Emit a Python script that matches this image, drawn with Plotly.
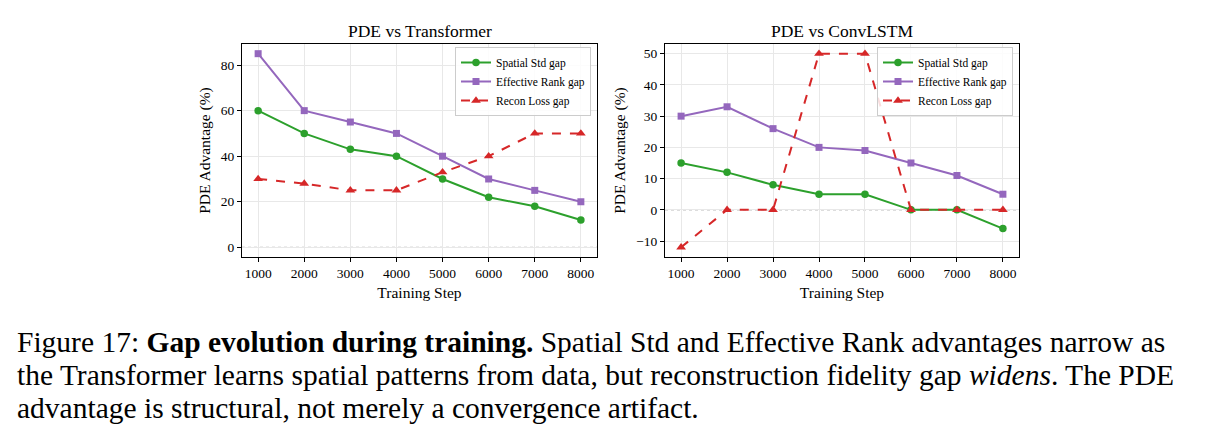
import plotly.graph_objects as go

steps = [1000, 2000, 3000, 4000, 5000, 6000, 7000, 8000]

tf_spatial = [60, 50, 43, 40, 30, 22, 18, 12]
tf_rank = [85, 60, 55, 50, 40, 30, 25, 20]
tf_recon = [30, 28, 25, 25, 33, 40, 50, 50]

cl_spatial = [15, 12, 8, 5, 5, 0, 0, -6]
cl_rank = [30, 33, 26, 20, 19, 15, 11, 5]
cl_recon = [-12, 0, 0, 50, 50, 0, 0, 0]

series_names = ["Spatial Std gap", "Effective Rank gap", "Recon Loss gap"]
titles = ["PDE vs Transformer", "PDE vs ConvLSTM"]
yticks_left = [0, 20, 40, 60, 80]
yticks_right = [-10, 0, 10, 20, 30, 40, 50]

W, H = 1219, 437
FONT = "Liberation Serif"
GREEN, PURPLE, RED = "#2ca02c", "#9467bd", "#d62728"

def px_x(p):
    return p / W

def px_y(p):
    return 1 - p / H

fig = go.Figure()

styles = [
    (GREEN, "circle", "solid", 7.5),
    (PURPLE, "square", "solid", 7),
    (RED, "triangle-up", "dash", 8.5),
]

panels = [
    ("x", "y", "legend", [tf_spatial, tf_rank, tf_recon]),
    ("x2", "y2", "legend2", [cl_spatial, cl_rank, cl_recon]),
]

for xa, ya, lg, data in panels:
    for name, vals, (col, sym, dash, ms) in zip(series_names, data, styles):
        fig.add_trace(go.Scatter(
            x=steps, y=vals, name=name, mode="lines+markers",
            xaxis=xa, yaxis=ya, legend=lg,
            line=dict(color=col, width=2, dash=dash),
            marker=dict(symbol=sym, size=ms, color=col),
        ))

y_dom = [px_y(257), px_y(44)]
axis_common = dict(
    showline=True, linecolor="black", linewidth=1, mirror=True,
    ticks="outside", ticklen=4, tickcolor="black", tickwidth=1,
    showgrid=True, gridcolor="#e8e8e8", gridwidth=1, zeroline=False,
    tickfont=dict(family=FONT, size=13.5, color="black"),
)

fig.update_layout(
    width=W, height=H,
    margin=dict(l=0, r=0, t=0, b=0),
    paper_bgcolor="white", plot_bgcolor="white",
    font=dict(family=FONT, color="black"),
    showlegend=True,
    xaxis=dict(domain=[px_x(242), px_x(597)], anchor="y", range=[650, 8350],
               tickvals=steps,
               title=dict(text="Training Step", font=dict(family=FONT, size=15.5), standoff=6),
               **axis_common),
    yaxis=dict(domain=y_dom, anchor="x", range=[-4.25, 89.25], tickvals=yticks_left,
               title=dict(text="PDE Advantage (%)", font=dict(family=FONT, size=15.5), standoff=6),
               **axis_common),
    xaxis2=dict(domain=[px_x(665), px_x(1019)], anchor="y2", range=[650, 8350],
                tickvals=steps,
                title=dict(text="Training Step", font=dict(family=FONT, size=15.5), standoff=6),
                **axis_common),
    yaxis2=dict(domain=y_dom, anchor="x2", range=[-15.1, 53.1], tickvals=yticks_right,
                title=dict(text="PDE Advantage (%)", font=dict(family=FONT, size=15.5), standoff=6),
                **axis_common),
    legend=dict(x=px_x(591), y=px_y(47), xanchor="right", yanchor="top",
                bgcolor="rgba(255,255,255,0.85)", bordercolor="#cccccc", borderwidth=1,
                font=dict(family=FONT, size=11.5), tracegroupgap=0, itemwidth=30),
    legend2=dict(x=px_x(1013), y=px_y(47), xanchor="right", yanchor="top",
                 bgcolor="rgba(255,255,255,0.85)", bordercolor="#cccccc", borderwidth=1,
                 font=dict(family=FONT, size=11.5), tracegroupgap=0, itemwidth=30),
)

for xa, ya in [("x", "y"), ("x2", "y2")]:
    fig.add_shape(type="line", xref=f"{xa} domain", yref=ya, x0=0, x1=1, y0=0, y1=0,
                  line=dict(color="#999999", width=1, dash="dot"), layer="below")

for t, cx in zip(titles, [(242 + 597) / 2, (665 + 1019) / 2]):
    fig.add_annotation(text=t, x=px_x(cx), y=px_y(31), xref="paper", yref="paper",
                       showarrow=False, xanchor="center", yanchor="middle",
                       font=dict(family=FONT, size=17.5, color="black"))

caption_lines = [
    "Figure 17: <b>Gap evolution during training.</b> Spatial Std and Effective Rank advantages narrow as",
    "the Transformer learns spatial patterns from data, but reconstruction fidelity gap <i>widens</i>. The PDE",
    "advantage is structural, not merely a convergence artifact.",
]
for line, cy in zip(caption_lines, [342, 375, 408]):
    fig.add_annotation(text=line, x=px_x(15), y=px_y(cy), xref="paper", yref="paper",
                       showarrow=False, xanchor="left", yanchor="middle",
                       font=dict(family=FONT, size=29.5, color="black"))

fig.write_html("out.html")
